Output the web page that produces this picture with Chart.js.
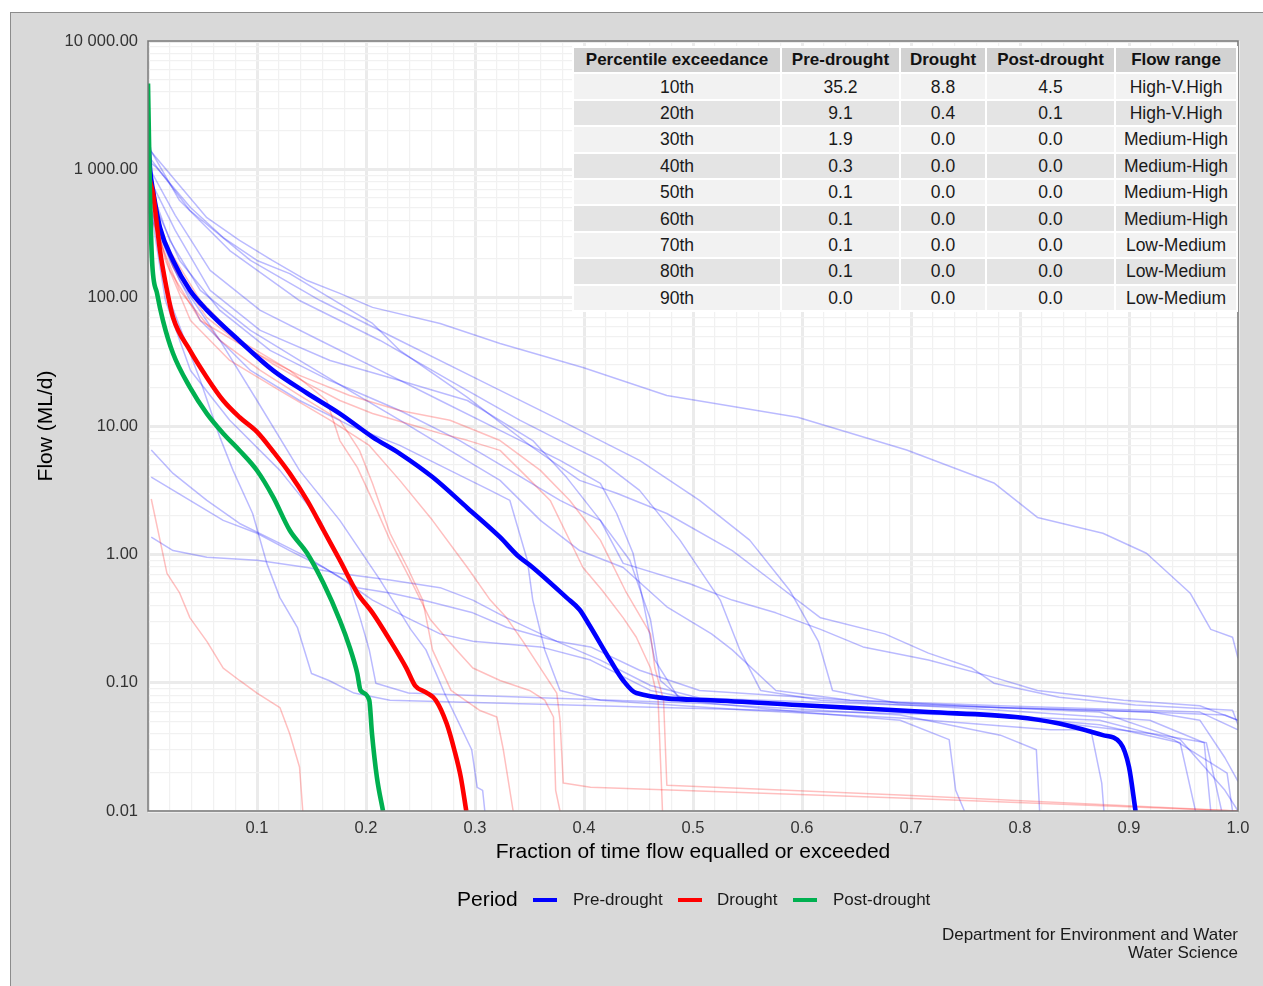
<!DOCTYPE html>
<html>
<head>
<meta charset="utf-8">
<title>Flow duration curves</title>
<script src="https://cdn.jsdelivr.net/npm/chart.js@4.4.1/dist/chart.umd.min.js"></script>
<style>
  html, body { margin: 0; padding: 0; background: #fff; overflow: hidden; }
  body { width: 1263px; height: 986px; position: relative; font-family: "Liberation Sans", Arial, sans-serif; }
  #panel { position: absolute; left: 10px; top: 12px; width: 1270px; height: 990px; background: #d9d9d9; box-sizing: border-box; border-left: 1px solid #8c8c8c; border-top: 1px solid #8c8c8c; }
  #chartBox { position: absolute; left: 10px; top: 12px; width: 1253px; height: 974px; }
  #statsTable { position: absolute; left: 572px; top: 46px; border-collapse: separate; border-spacing: 2px; background: #fff; table-layout: fixed; font-size: 17.5px; color: #1a1a1a; }
  #statsTable td, #statsTable th { padding: 0; text-align: center; height: 24.4px; line-height: 24px; white-space: nowrap; overflow: hidden; }
  #statsTable th { background: #d2d2d2; font-weight: bold; color: #111; font-size: 17px; }
  #statsTable tr.odd td { background: #f2f2f2; }
  #statsTable tr.even td { background: #e4e4e4; }
  .lg { position: absolute; white-space: nowrap; }
  .lg-title { font-size: 21px; color: #000; top: 887px; }
  .lg-text { font-size: 17px; color: #1a1a1a; top: 890px; }
  .lg-key { height: 4px; width: 24px; top: 898px; }
  #caption { position: absolute; right: 25px; top: 926px; text-align: right; font-size: 17px; line-height: 18px; color: #1a1a1a; }
</style>
</head>
<body>
<div id="panel"></div>
<div id="chartBox"><canvas id="fdcChart"></canvas></div>
<table id="statsTable"></table>
<div id="legend"></div>
<div id="caption">Department for Environment and Water<br>Water Science</div>
<script>
// 流量历时曲线

// 坐标轴
const xMinorStep = 0.02;
const yDecades = [0.01, 0.1, 1, 10, 100, 1000, 10000];

// 三个时期的综合曲线 [时间比例, 流量 ML/d]
const preDrought = [[0,1900],[0.002,980],[0.0046,684],[0.011,352],[0.023,195],[0.0385,114],[0.054,80],[0.084,46],[0.115,27],[0.146,18],[0.176,12.5],[0.206,8.2],[0.231,6.1],[0.261,4.0],[0.293,2.3],[0.323,1.36],[0.339,0.98],[0.353,0.79],[0.384,0.46],[0.396,0.37],[0.405,0.28],[0.424,0.15],[0.436,0.104],[0.448,0.083],[0.516,0.073],[0.596,0.067],[0.716,0.059],[0.796,0.054],[0.836,0.048],[0.876,0.039],[0.892,0.034],[0.9,0.022],[0.906,0.01]];
const drought = [[0,1000],[0.0018,815],[0.0046,650],[0.011,233],[0.0174,114],[0.023,70],[0.0385,38.8],[0.054,23.9],[0.069,15.8],[0.084,11.7],[0.1,9.0],[0.115,6.3],[0.13,4.27],[0.146,2.63],[0.161,1.54],[0.176,0.9],[0.192,0.5],[0.206,0.35],[0.222,0.214],[0.237,0.13],[0.245,0.095],[0.255,0.084],[0.264,0.073],[0.274,0.048],[0.281,0.03],[0.287,0.0183],[0.292,0.01]];
const postDrought = [[0,4660],[0.0018,650],[0.0037,195],[0.0083,108],[0.0138,66],[0.023,36.7],[0.0385,20],[0.054,12.5],[0.069,8.75],[0.084,6.45],[0.1,4.5],[0.115,2.78],[0.13,1.54],[0.146,1.02],[0.161,0.594],[0.176,0.306],[0.185,0.189],[0.192,0.118],[0.195,0.087],[0.203,0.073],[0.2055,0.04],[0.21,0.0183],[0.2156,0.01]];

// 干旱前各年曲线
const preDroughtYears = [
  [[0,2000],[0.002,1400],[0.023,860],[0.054,420],[0.084,280],[0.114,195],[0.146,136],[0.176,108],[0.206,84],[0.268,63],[0.323,44],[0.399,28.6],[0.476,17.3],[0.596,11.7],[0.696,6.5],[0.776,3.6],[0.816,1.94],[0.876,1.46],[0.916,1.02],[0.956,0.5],[0.975,0.26],[0.995,0.226],[1,0.155]],
  [[0,1170],[0.008,1030],[0.039,504],[0.069,294],[0.1,195],[0.13,154],[0.206,63],[0.231,38.8],[0.293,16.7],[0.353,6.8],[0.396,3.77],[0.43,2.99],[0.476,2.08],[0.536,1.07],[0.576,0.59],[0.617,0.32],[0.676,0.24],[0.716,0.17],[0.756,0.13],[0.776,0.099],[0.836,0.077],[0.906,0.067],[0.995,0.061],[1,0.047]],
  [[0,895],[0.025,334],[0.057,114],[0.103,55.6],[0.167,32.4],[0.231,22.6],[0.293,15.8],[0.353,7.7],[0.384,3.98],[0.415,1.84],[0.436,0.85],[0.497,0.59],[0.536,0.44],[0.576,0.35],[0.617,0.26],[0.656,0.19],[0.716,0.15],[0.776,0.11],[0.816,0.087],[0.895,0.073],[0.965,0.066],[1,0.051]],
  [[0,818],[0.02,279],[0.048,114],[0.094,55.6],[0.139,32.4],[0.185,18.9],[0.231,11.1],[0.277,6.46],[0.323,3.77],[0.36,1.84],[0.396,1.07],[0.436,0.79],[0.476,0.39],[0.517,0.24],[0.536,0.18],[0.576,0.087],[0.644,0.073],[0.782,0.064],[0.92,0.059],[0.965,0.051],[0.988,0.026],[1,0.017]],
  [[0,684],[0.029,195],[0.066,79.5],[0.112,38.8],[0.167,22.6],[0.231,13.2],[0.286,7.7],[0.332,4.51],[0.378,2.63],[0.415,1.84],[0.442,0.9],[0.461,0.31],[0.47,0.104],[0.488,0.077],[0.598,0.067],[0.736,0.059],[0.873,0.047],[0.947,0.034],[0.961,0.01]],
  [[0,571],[0.02,195],[0.048,66.4],[0.094,27.1],[0.139,15.8],[0.185,10.1],[0.231,7.06],[0.277,4.51],[0.314,3.15],[0.332,2.63],[0.348,0.9],[0.353,0.44],[0.364,0.18],[0.378,0.087],[0.415,0.073],[0.552,0.061],[0.69,0.053],[0.828,0.043],[0.865,0.043],[0.875,0.0165],[0.877,0.01]],
  [[0,1070],[0.025,438],[0.057,163],[0.103,79.5],[0.158,46.4],[0.213,27.1],[0.268,15.8],[0.323,9.25],[0.378,5.4],[0.415,3.57],[0.43,2.08],[0.445,1.02],[0.454,0.44],[0.465,0.15],[0.488,0.073],[0.598,0.059],[0.69,0.051],[0.735,0.036],[0.741,0.0145],[0.749,0.01]],
  [[0,700],[0.008,250],[0.016,95],[0.039,27.1],[0.075,11.1],[0.121,4.51],[0.158,1.84],[0.181,0.75],[0.195,0.31],[0.203,0.18],[0.209,0.099],[0.239,0.083],[0.287,0.08],[0.506,0.069],[0.69,0.056],[0.782,0.039],[0.815,0.03],[0.818,0.01]],
  [[0,600],[0.008,334],[0.02,95],[0.048,22.6],[0.066,8.15],[0.078,4.51],[0.096,2.08],[0.109,0.85],[0.121,0.46],[0.137,0.27],[0.15,0.118],[0.166,0.104],[0.189,0.083],[0.222,0.073],[0.506,0.063],[0.782,0.055],[0.922,0.04],[0.971,0.034],[0.985,0.01]],
  [[0,478],[0.029,136],[0.066,46.4],[0.1,15.8],[0.139,4.51],[0.176,1.84],[0.213,0.63],[0.241,0.26],[0.255,0.18],[0.272,0.083],[0.297,0.03],[0.302,0.0153],[0.307,0.0145],[0.309,0.01]],
  [[0,1530],[0.029,571],[0.075,233],[0.139,95],[0.213,46.4],[0.277,22.6],[0.341,11.1],[0.378,7.7],[0.415,5.4],[0.451,3.15],[0.488,1.29],[0.525,0.44],[0.543,0.18],[0.562,0.087],[0.617,0.073],[0.782,0.061],[0.919,0.051],[0.969,0.034],[0.975,0.01]],
  [[0,1280],[0.0385,478],[0.094,195],[0.158,95],[0.231,46.4],[0.305,22.6],[0.378,11.1],[0.451,5.4],[0.506,2.63],[0.552,1.29],[0.589,0.52],[0.615,0.21],[0.628,0.087],[0.688,0.069],[0.873,0.059],[0.947,0.036],[0.988,0.0145],[1,0.01]],
  [[0.003,6.5],[0.023,4.27],[0.054,2.63],[0.084,1.74],[0.115,1.29],[0.146,0.95],[0.176,0.66],[0.206,0.44],[0.238,0.32],[0.268,0.24],[0.298,0.21],[0.36,0.19],[0.406,0.15],[0.461,0.087],[0.506,0.073],[0.69,0.059],[0.873,0.051],[0.941,0.036],[0.99,0.0197],[0.995,0.01]],
  [[0.003,4.0],[0.0385,2.63],[0.069,1.84],[0.1,1.46],[0.13,1.07],[0.161,0.79],[0.192,0.55],[0.222,0.5],[0.252,0.44],[0.298,0.35],[0.329,0.27],[0.375,0.21],[0.406,0.19],[0.451,0.125],[0.506,0.087],[0.644,0.073],[0.782,0.066],[0.965,0.059],[1,0.043]],
  [[0.003,1.36],[0.023,1.07],[0.054,0.95],[0.1,0.9],[0.146,0.79],[0.176,0.71],[0.222,0.63],[0.268,0.55],[0.298,0.44],[0.329,0.32],[0.375,0.21],[0.415,0.15],[0.461,0.095],[0.506,0.076],[0.69,0.067],[0.873,0.061],[0.988,0.056],[1,0.051]]
];

// 干旱期各年曲线
const droughtYears = [
  [[0.003,2.7],[0.011,1.29],[0.0174,0.71],[0.029,0.5],[0.0385,0.32],[0.054,0.21],[0.069,0.13],[0.084,0.104],[0.1,0.083],[0.121,0.064],[0.13,0.04],[0.139,0.022],[0.142,0.01]],
  [[0,818],[0.008,421],[0.023,172],[0.054,70],[0.084,44],[0.114,30.7],[0.146,21.5],[0.176,15.8],[0.206,12.5],[0.237,10.5],[0.268,8.76],[0.293,7.73],[0.323,6.46],[0.348,3.98],[0.369,2.63],[0.399,0.79],[0.417,0.52],[0.436,0.32],[0.448,0.226],[0.461,0.13],[0.468,0.073],[0.472,0.01]],
  [[0,684],[0.016,195],[0.039,66.4],[0.075,32.4],[0.121,18.9],[0.167,11.1],[0.203,7.06],[0.231,3.77],[0.261,1.84],[0.293,0.79],[0.314,0.44],[0.329,0.32],[0.344,0.21],[0.36,0.13],[0.375,0.083],[0.378,0.051],[0.381,0.0165],[0.406,0.0153],[0.69,0.0126],[1,0.01]],
  [[0,571],[0.02,163],[0.048,66.4],[0.094,38.8],[0.139,24.8],[0.185,17.3],[0.231,13.2],[0.277,11.1],[0.323,7.7],[0.36,4.51],[0.387,2.63],[0.415,1.29],[0.438,0.52],[0.461,0.24],[0.465,0.13],[0.473,0.073],[0.476,0.0159],[0.69,0.0133],[1,0.01]],
  [[0,478],[0.029,114],[0.066,46.4],[0.103,27.1],[0.139,17.3],[0.176,11.1],[0.194,6.46],[0.206,3.57],[0.222,1.46],[0.238,0.79],[0.252,0.44],[0.261,0.18],[0.278,0.087],[0.304,0.061],[0.32,0.054],[0.326,0.03],[0.335,0.01]],
  [[0,625],[0.02,233],[0.048,95],[0.084,46.4],[0.13,27.1],[0.164,15.8],[0.176,7.7],[0.192,4.76],[0.206,2.63],[0.222,1.29],[0.241,0.63],[0.259,0.31],[0.283,0.18],[0.298,0.13],[0.323,0.104],[0.35,0.087],[0.364,0.073],[0.372,0.054],[0.374,0.0145],[0.378,0.01]]
];

// 百分位表
const tableHead = ['Percentile exceedance', 'Pre-drought', 'Drought', 'Post-drought', 'Flow range'];
const percentiles = ['10th', '20th', '30th', '40th', '50th', '60th', '70th', '80th', '90th'];
const preTable = ['35.2', '9.1', '1.9', '0.3', '0.1', '0.1', '0.1', '0.1', '0.0'];
const droughtTable = ['8.8', '0.4', '0.0', '0.0', '0.0', '0.0', '0.0', '0.0', '0.0'];
const postTable = ['4.5', '0.1', '0.0', '0.0', '0.0', '0.0', '0.0', '0.0', '0.0'];
const flowRange = ['High-V.High', 'High-V.High', 'Medium-High', 'Medium-High', 'Medium-High', 'Medium-High', 'Low-Medium', 'Low-Medium', 'Low-Medium'];

// 图例
const periodNames = ['Pre-drought', 'Drought', 'Post-drought'];
const periodColors = ['#0000ff', '#ff0000', '#00b050'];

// 表格
const colWidths = [206, 117, 84, 127, 120];
const table = document.getElementById('statsTable');
let html = '<colgroup>' + colWidths.map(w => '<col style="width:' + w + 'px">').join('') + '</colgroup>';
html += '<tr>' + tableHead.map(h => '<th>' + h + '</th>').join('') + '</tr>';
percentiles.forEach((p, i) => {
    html += '<tr class="' + (i % 2 === 0 ? 'odd' : 'even') + '"><td>' + p + '</td><td>' + preTable[i] + '</td><td>' +
        droughtTable[i] + '</td><td>' + postTable[i] + '</td><td>' + flowRange[i] + '</td></tr>';
});
table.innerHTML = html;

// 图例 (HTML)
const legend = document.getElementById('legend');
const keyLeft = [533, 678, 793];
const textLeft = [573, 717, 833];
let lg = '<span class="lg lg-title" style="left:457px">Period</span>';
periodNames.forEach((name, i) => {
    lg += '<span class="lg lg-key" style="left:' + keyLeft[i] + 'px;background:' + periodColors[i] + '"></span>';
    lg += '<span class="lg lg-text" style="left:' + textLeft[i] + 'px">' + name + '</span>';
});
legend.innerHTML = lg;

// 工具函数
const isDecade = v => Math.abs(Math.log10(v) - Math.round(Math.log10(v))) < 1e-6;
const isMajorX = v => Math.abs(v * 10 - Math.round(v * 10)) < 1e-6;
const fmtFlow = v => {
    const parts = v.toFixed(2).split('.');
    return parts[0].replace(/\B(?=(\d{3})+(?!\d))/g, ' ') + '.' + parts[1];
};
const toPoints = arr => arr.map(([x, y]) => ({x: x, y: y}));

const xTicks = [];
for (let i = 0; i <= Math.round(1 / xMinorStep); i++) xTicks.push(i * 2 / 100);
const yTicks = [];
yDecades.forEach((d, i) => {
    if (i === yDecades.length - 1) { yTicks.push(d); return; }
    for (let m = 1; m <= 9; m++) yTicks.push(parseFloat((m * d).toPrecision(6)));
});

// 数据集
const datasets = [];
[postDrought, drought, preDrought].forEach((series, k) => {
    const idx = 2 - k;
    datasets.push({
        label: periodNames[idx],
        data: toPoints(series),
        borderColor: periodColors[idx],
        borderWidth: 4.6,
        cubicInterpolationMode: 'monotone',
        order: 0
    });
});
preDroughtYears.forEach((s, i) => {
    datasets.push({ label: 'pre-' + i, data: toPoints(s), borderColor: 'rgba(0,0,255,0.27)', borderWidth: 1.5, order: 2 });
});
droughtYears.forEach((s, i) => {
    datasets.push({ label: 'drought-' + i, data: toPoints(s), borderColor: 'rgba(255,0,0,0.25)', borderWidth: 1.5, order: 1 });
});

// 面板白底与边框
const panelPlugin = {
    id: 'panelPlugin',
    beforeDraw(chart) {
        const {ctx, chartArea: a} = chart;
        ctx.save();
        ctx.fillStyle = '#ffffff';
        ctx.fillRect(a.left, a.top, a.right - a.left, a.bottom - a.top);
        ctx.restore();
    },
    afterDraw(chart) {
        const {ctx, chartArea: a} = chart;
        ctx.save();
        ctx.strokeStyle = '#777777';
        ctx.lineWidth = 1.5;
        ctx.strokeRect(a.left, a.top, a.right - a.left, a.bottom - a.top);
        ctx.restore();
    }
};

Chart.defaults.font.family = "'Liberation Sans', Arial, sans-serif";

new Chart(document.getElementById('fdcChart').getContext('2d'), {
    type: 'scatter',
    data: { datasets: datasets },
    options: {
        responsive: true,
        maintainAspectRatio: false,
        animation: false,
        showLine: true,
        layout: { padding: { top: 29, right: 25, bottom: 105, left: 0 } },
        elements: {
            point: { radius: 0, hoverRadius: 0 },
            line: { tension: 0, borderJoinStyle: 'round', borderCapStyle: 'butt' }
        },
        plugins: {
            legend: { display: false },
            tooltip: { enabled: false }
        },
        scales: {
            x: {
                type: 'linear',
                min: 0,
                max: 1,
                afterBuildTicks: scale => { scale.ticks = xTicks.map(v => ({value: v})); },
                afterFit: scale => { scale.height = 70; },
                ticks: {
                    autoSkip: false,
                    maxRotation: 0,
                    padding: 8,
                    color: '#333333',
                    font: { size: 16.5 },
                    callback: v => (v > 0 && isMajorX(v)) ? v.toFixed(1) : ''
                },
                grid: {
                    drawTicks: false,
                    color: ctx => (ctx.tick && isMajorX(ctx.tick.value)) ? '#ebebeb' : '#f1f1f1',
                    lineWidth: ctx => (ctx.tick && isMajorX(ctx.tick.value)) ? 3 : 1.2
                },
                border: { display: false },
                title: {
                    display: true,
                    text: 'Fraction of time flow equalled or exceeded',
                    color: '#000',
                    font: { size: 21 },
                    padding: { top: 0, bottom: 16 }
                }
            },
            y: {
                type: 'logarithmic',
                min: 0.01,
                max: 10000,
                afterBuildTicks: scale => { scale.ticks = yTicks.map(v => ({value: v})); },
                afterFit: scale => { scale.width = 138; },
                ticks: {
                    autoSkip: false,
                    padding: 10,
                    color: '#333333',
                    font: { size: 16.5 },
                    callback: v => isDecade(v) ? fmtFlow(v) : ''
                },
                grid: {
                    drawTicks: false,
                    color: ctx => (ctx.tick && isDecade(ctx.tick.value)) ? '#ebebeb' : '#f1f1f1',
                    lineWidth: ctx => (ctx.tick && isDecade(ctx.tick.value)) ? 3 : 1.2
                },
                border: { display: false },
                title: {
                    display: true,
                    text: 'Flow (ML/d)',
                    color: '#000',
                    font: { size: 21 },
                    padding: { top: 24, bottom: 0 }
                }
            }
        }
    },
    plugins: [panelPlugin]
});
</script>
</body>
</html>
